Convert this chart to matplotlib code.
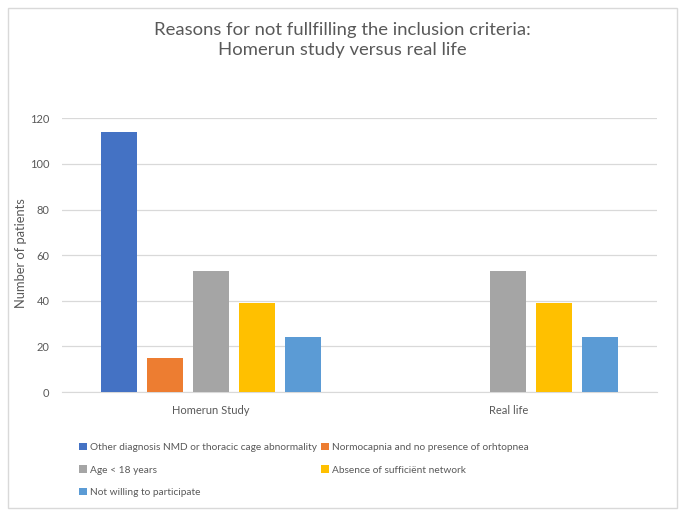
import matplotlib.pyplot as plt
import numpy as np

plt.rcParams['font.family'] = ['Lato', 'DejaVu Sans']

groups = ['Homerun Study', 'Real life']
series = ['Other diagnosis NMD or thoracic cage abnormality',
          'Normocapnia and no presence of orhtopnea',
          'Age < 18 years',
          'Absence of sufficiënt network',
          'Not willing to participate']
values = [[114, 0],
          [15, 0],
          [53, 53],
          [39, 39],
          [24, 24]]
colors = ['#4472C4', '#ED7D31', '#A5A5A5', '#FFC000', '#5B9BD5']

txt = '#595959'

fig = plt.figure(figsize=(6.85, 5.16), dpi=100)
ax = fig.add_axes([0.0905, 0.2403, 0.8685, 0.5304])

x = np.arange(len(groups))
width = 0.121
pitch = 0.1546
handles = []
for i, (name, vals) in enumerate(zip(series, values)):
    off = (i - 2) * pitch
    b = ax.bar(x + off, vals, width, color=colors[i], label=name, linewidth=0, zorder=3)
    handles.append(b)

ax.set_xlim(-0.5, 1.5)
ax.set_ylim(0, 120)
ax.set_yticks(range(0, 121, 20))
ax.set_xticks(x)
ax.set_xticklabels(groups)
ax.grid(axis='y', color='#D9D9D9', linewidth=0.9, zorder=0)
for s in ['top', 'right', 'left']:
    ax.spines[s].set_visible(False)
ax.spines['bottom'].set_color('#D9D9D9')
ax.tick_params(length=0, colors=txt, labelsize=8, pad=9)

# y label placed by hand
fig.text(21 / 685, 1 - 253 / 516, 'Number of patients', rotation=90,
         ha='center', va='center', color=txt, fontsize=9.3)

fig.text(0.5, 1 - 40 / 516,
         'Reasons for not fullfilling the inclusion criteria:\nHomerun study versus real life',
         ha='center', va='center', fontsize=13.3, color=txt, linespacing=1.3)

order = [0, 2, 4, 1, 3]
fig.legend([handles[i] for i in order], [series[i] for i in order],
           ncol=2, loc='upper left', bbox_to_anchor=(79 / 685, 1 - 443 / 516),
           frameon=False, fontsize=7.3, labelcolor=txt,
           handlelength=0.75, handleheight=0.75, handletextpad=0.3,
           columnspacing=0.45, labelspacing=1.3, borderaxespad=0, borderpad=0)

fig.patches.append(plt.Rectangle((8 / 685, 8 / 516), 669 / 685, 500 / 516,
                                 transform=fig.transFigure, fill=False,
                                 edgecolor='#D9D9D9', linewidth=1))

fig.savefig('out.png', dpi=100, facecolor='white')
